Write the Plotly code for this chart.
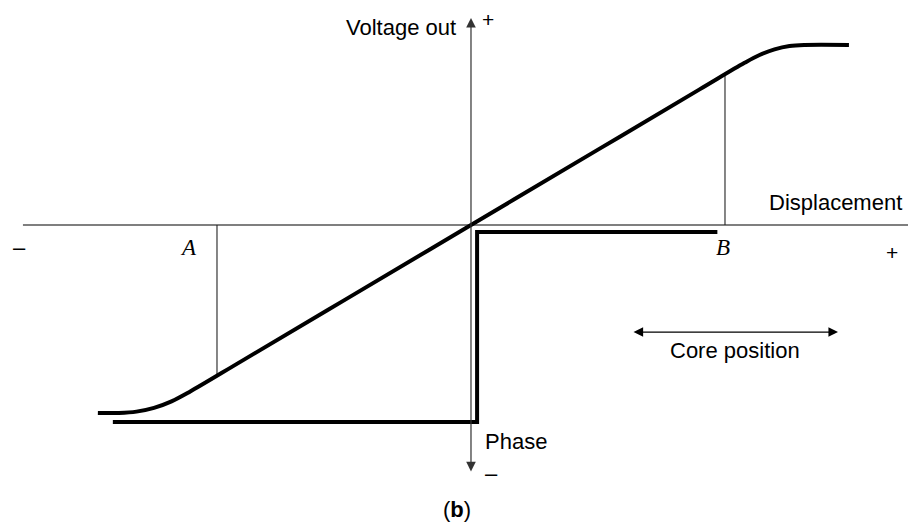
import plotly.graph_objects as go

# Output voltage vs core displacement (A = -1, B = +1 displacement units)
voltage_x = [-1.469, -1.386, -1.317, -1.248, -1.179, -1.110, -0.9, -0.5, 0.0, 0.5,
             0.9, 1.077, 1.136, 1.195, 1.254, 1.313, 1.488]
voltage_y = [-1.245, -1.245, -1.236, -1.211, -1.168, -1.107, -0.898, -0.499, 0.0, 0.499,
             0.898, 1.074, 1.126, 1.163, 1.185, 1.192, 1.192]

# Phase step
phase_x = [-1.41, 0.024, 0.024, 0.97]
phase_y = [-1.305, -1.305, -0.046, -0.046]

# Marked core positions
marks = ["A", "B"]
mark_x = [-1.0, 1.0]
mark_v = [-0.998, 0.998]

font = "Liberation Sans, Arial, Helvetica, sans-serif"
serif = "Liberation Serif, Times New Roman, serif"

fig = go.Figure()

# horizontal (displacement) axis
fig.add_trace(go.Scatter(x=[-1.764, 1.736], y=[0, 0], mode="lines",
                         line=dict(color="black", width=1.2), hoverinfo="skip"))

# drop lines at A and B
for mx, mv in zip(mark_x, mark_v):
    fig.add_trace(go.Scatter(x=[mx, mx], y=[0, mv], mode="lines",
                             line=dict(color="#222", width=1.1), hoverinfo="skip"))

fig.add_trace(go.Scatter(x=voltage_x, y=voltage_y, mode="lines",
                         line=dict(color="black", width=4, shape="spline", smoothing=1.0),
                         name="Voltage out"))
fig.add_trace(go.Scatter(x=phase_x, y=phase_y, mode="lines",
                         line=dict(color="black", width=4), name="Phase"))

annotations = [
    # vertical axis with arrows both ends
    dict(x=0, y=1.371, ax=0, ay=-1.642, xref="x", yref="y", axref="x", ayref="y",
         text="", showarrow=True, arrowhead=2, arrowside="end+start",
         arrowsize=1.6, arrowwidth=1.2, arrowcolor="#333"),
    # core position double arrow
    dict(x=1.445, y=-0.709, ax=0.634, ay=-0.709, xref="x", yref="y", axref="x", ayref="y",
         text="", showarrow=True, arrowhead=2, arrowside="end+start",
         arrowsize=1.6, arrowwidth=1.2, arrowcolor="black"),
]

labels = [
    ("Voltage out", -0.051, 1.311, "right", 22),
    ("+", 0.067, 1.36, "center", 21),
    ("Displacement", 1.705, 0.152, "right", 22),
    ("–", -1.776, -0.152, "center", 22),
    ("+", 1.657, -0.179, "center", 21),
    ("Core position", 1.039, -0.828, "center", 22),
    ("Phase", 0.047, -1.437, "left", 22),
    ("–", 0.079, -1.649, "center", 22),
    ("(<b>b</b>)", -0.055, -1.887, "center", 22),
]
for txt, x, y, anchor, size in labels:
    annotations.append(dict(x=x, y=y, xref="x", yref="y", text=txt, showarrow=False,
                            xanchor=anchor, yanchor="middle",
                            font=dict(family=font, size=size, color="black")))

label_x = [-1.114, 0.992]
for name, lx in zip(marks, label_x):
    annotations.append(dict(x=lx, y=-0.146, xref="x", yref="y", text=f"<i>{name}</i>",
                            showarrow=False, xanchor="center", yanchor="middle",
                            font=dict(family=serif, size=23, color="black")))

# ranges shifted to allow for the page's default 8px body margin
fig.update_layout(
    width=916, height=522,
    margin=dict(l=0, r=0, t=0, b=0),
    paper_bgcolor="white", plot_bgcolor="white",
    showlegend=False,
    xaxis=dict(range=[-1.8228, 1.7835], visible=False),
    yaxis=dict(range=[-2.0199, 1.4371], visible=False),
    annotations=annotations,
)

fig.write_html("out.html")
